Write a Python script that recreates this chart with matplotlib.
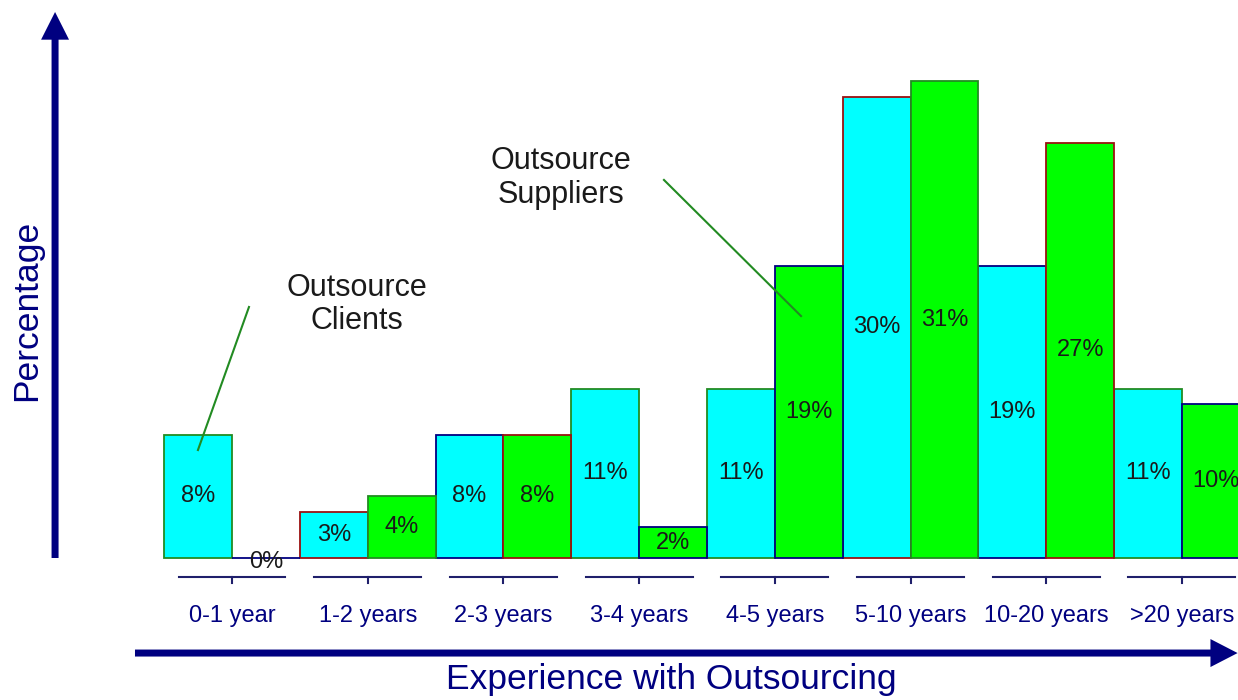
import matplotlib.pyplot as plt
import numpy as np

plt.rcParams['font.family'] = ['Liberation Sans', 'DejaVu Sans']

# Data
groups = ['0-1 year', '1-2 years', '2-3 years', '3-4 years',
          '4-5 years', '5-10 years', '10-20 years', '>20 years']
clients = [8, 3, 8, 11, 11, 30, 19, 11]
suppliers = [0, 4, 8, 2, 19, 31, 27, 10]

# Edge colours of each bar (client, supplier) as in the original
navy = '#000080'
dgreen = '#228B22'
dred = '#9a1010'
client_edges = [dgreen, dred, navy, dgreen, dgreen, dred, navy, dgreen]
supplier_edges = [navy, dgreen, dred, navy, navy, dgreen, dred, navy]

fig = plt.figure(figsize=(12.38, 7.0), dpi=100)
ax = fig.add_axes([0, 0, 1, 1])
ax.set_xlim(-1.7097, 7.413)
ax.set_ylim(-9.233, 36.28)
ax.axis('off')

x = np.arange(len(groups))
w = 0.5

# Bars
ax.bar(x - w / 2, clients, width=w, color='#00ffff',
       edgecolor=client_edges, linewidth=1.3, zorder=2)
ax.bar(x + w / 2, suppliers, width=w, color='#00ff00',
       edgecolor=supplier_edges, linewidth=1.3, zorder=2)

# Value labels inside the bars
for i in range(len(groups)):
    ax.text(x[i] - w / 2, clients[i] / 2, f'{clients[i]}%', ha='center', va='center',
            fontsize=17, color='#1a1a1a', zorder=3)
    yv = suppliers[i] / 2 if suppliers[i] > 0 else -0.25
    ax.text(x[i] + w / 2, yv, f'{suppliers[i]}%', ha='center', va='center',
            fontsize=17, color='#1a1a1a', zorder=3)

# Category "ticks": a short line under each group with a small mark
for i, g in enumerate(groups):
    ax.plot([x[i] - 0.394, x[i] + 0.394], [-1.235, -1.235], color='#1f1f6b', lw=1.5)
    ax.plot([x[i], x[i]], [-1.235, -1.63], color='#1f1f6b', lw=1.5)
    ax.text(x[i], -3.78, g, ha='center', va='center', fontsize=17, color=navy)

# Axis arrows (sharp triangular heads)
ax.arrow(-1.304, 0, 0, 35.5, width=0.0516, head_width=0.206, head_length=1.8,
         length_includes_head=True, color=navy, lw=0)
ax.arrow(-0.715, -6.18, 8.125, 0, width=0.455, head_width=1.82, head_length=0.2,
         length_includes_head=True, color=navy, lw=0)

ax.text(-1.511, 16.12, 'Percentage', rotation=90, ha='center', va='center',
        fontsize=25.5, color=navy)
ax.text(3.24, -7.9, 'Experience with Outsourcing', ha='center', va='center',
        fontsize=25.5, color=navy)

# Callouts
ax.text(0.921, 16.48, 'Outsource\nClients', ha='center', va='center',
        fontsize=22, color='#1a1a1a', linespacing=1.15)
ax.plot([0.125, -0.251], [16.32, 7.02], color=dgreen, lw=1.5, zorder=4)
ax.text(2.424, 24.71, 'Outsource\nSuppliers', ha='center', va='center',
        fontsize=22, color='#1a1a1a', linespacing=1.15)
ax.plot([3.183, 4.193], [24.58, 15.73], color=dgreen, lw=1.5, zorder=4)

fig.savefig('out.png', dpi=100, facecolor='white')
